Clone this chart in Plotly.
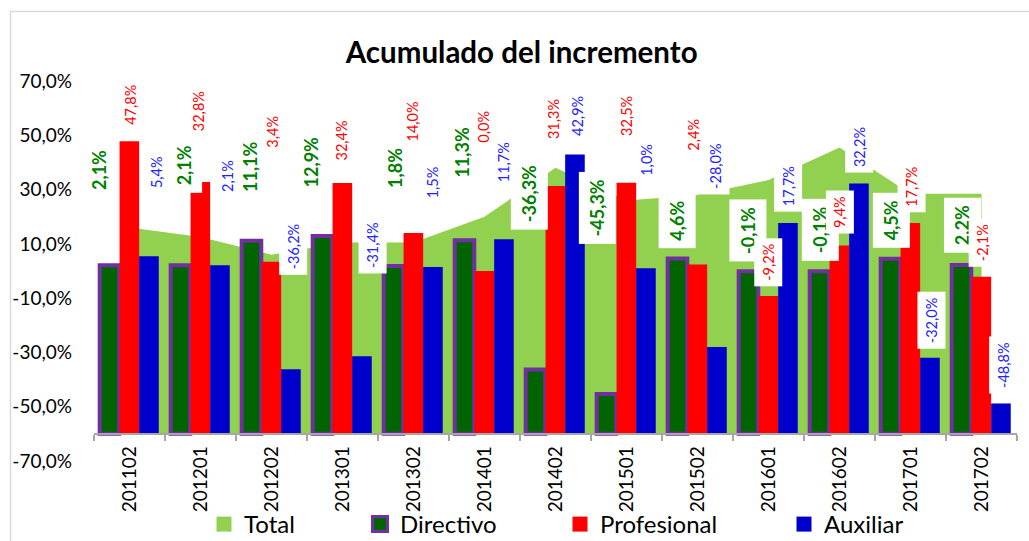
import plotly.graph_objects as go

# ---------------- data ----------------
categories = ["201102", "201201", "201202", "201301", "201302", "201401", "201402",
              "201501", "201502", "201601", "201602", "201701", "201702"]
total = [16.0, 12.5, 6.0, 10.5, 10.5, 20.0, 38.0, 26.0, 28.0, 33.5, 45.5, 28.5, 28.5]
directivo = [2.1, 2.1, 11.1, 12.9, 1.8, 11.3, -36.3, -45.3, 4.6, -0.1, -0.1, 4.5, 2.2]
profesional = [47.8, 32.8, 3.4, 32.4, 14.0, 0.0, 31.3, 32.5, 2.4, -9.2, 9.4, 17.7, -2.1]
auxiliar = [5.4, 2.1, -36.2, -31.4, 1.5, 11.7, 42.9, 1.0, -28.0, 17.7, 32.2, -32.0, -48.8]
y_tick_values = [-70, -50, -30, -10, 10, 30, 50, 70]

# ---------------- layout / style ----------------
BASE = -60          # horizontal axis crosses the value axis here
FONT = "Lato"
C_TOTAL = "#92D050"
C_DIR = "#006400"
C_DIR_LINE = "#7030A0"
C_PROF = "#FF0000"
C_AUX = "#0000CC"
L_DIR = "#008000"
L_PROF = "#FF0000"
L_AUX = "#2222FF"

BAR_W = 0.276
OFF_DIR, OFF_PROF, OFF_AUX = -0.42, -0.14, 0.136

PLOT_L, PLOT_W, PLOT_B, PLOT_H = 94, 923, 461, 380   # pixel frame of the plot area

# data-label placement (offset within category, vertical centre in axis units)
dir_lbl_dx = [-0.44, -0.24, -0.30, -0.45, -0.26, -0.32, -0.37, -0.41, -0.29, -0.29, -0.27, -0.27, -0.27]
dir_lbl_y = [37.3, 39.1, 38.4, 40.2, 38.0, 43.9, 28.4, 23.2, 18.5, 15.1, 15.1, 18.8, 17.0]
prof_lbl_dx = [0.01, -0.03, 0.02, -0.01, -0.01, -0.01, -0.03, 0.01, -0.05, -0.01, 0.01, 0.02, 0.01]
prof_lbl_y = [61.3, 59.0, 51.3, 48.0, 55.0, 53.1, 56.1, 57.2, 50.2, 3.3, 21.8, 31.0, 10.3]
aux_lbl_dx = [0.39, 0.39, 0.31, 0.43, 0.28, 0.28, 0.32, 0.29, 0.26, 0.28, 0.28, 0.29, 0.30]
aux_lbl_y = [36.5, 35.1, 8.9, 9.6, 32.8, 40.2, 57.2, 41.0, 38.7, 31.4, 45.8, -18.1, -34.7]

# legend entries: (name, fill, outline, legend id, text start in px)
legend_items = [("Total", C_TOTAL, None, "legend", 244),
                ("Directivo", C_DIR, C_DIR_LINE, "legend2", 400),
                ("Profesional", C_PROF, None, "legend3", 600),
                ("Auxiliar", C_AUX, None, "legend4", 824)]


def pct(v):
    return f"{v:.1f}".replace(".", ",") + "%"


fig = go.Figure()

# Total area (filled from the horizontal axis crossing) on the primary axes
fig.add_trace(go.Scatter(x=categories, y=[BASE] * len(categories), mode="lines",
                         line=dict(width=0, color=C_TOTAL), showlegend=False,
                         hoverinfo="skip"))
fig.add_trace(go.Scatter(x=categories, y=total, mode="lines", fill="tonexty",
                         fillcolor=C_TOTAL, line=dict(width=0, color=C_TOTAL),
                         name="Total", showlegend=False))

# Bars on overlaid axes so they sit above the area
fig.add_trace(go.Bar(x=categories, y=[v - BASE for v in directivo], base=BASE,
                     xaxis="x2", yaxis="y2",
                     width=BAR_W, offset=OFF_DIR, name="Directivo", showlegend=False,
                     marker=dict(color=C_DIR, line=dict(color=C_DIR_LINE, width=4))))
fig.add_trace(go.Bar(x=categories, y=[v - BASE for v in profesional], base=BASE,
                     xaxis="x2", yaxis="y2",
                     width=BAR_W, offset=OFF_PROF, name="Profesional", showlegend=False,
                     marker=dict(color=C_PROF, line=dict(width=0))))
fig.add_trace(go.Bar(x=categories, y=[v - BASE for v in auxiliar], base=BASE,
                     xaxis="x2", yaxis="y2",
                     width=BAR_W, offset=OFF_AUX, name="Auxiliar", showlegend=False,
                     marker=dict(color=C_AUX, line=dict(width=0))))

# legend entries (one small legend each, to reproduce the spacing)
legends = {}
for nm, col, ln, lid, tx in legend_items:
    fig.add_trace(go.Scatter(x=[None], y=[None], mode="markers", name=nm, legend=lid,
                             marker=dict(symbol="square", size=15, color=col,
                                         line=dict(color=ln or col, width=3 if ln else 0))))
    legends[lid] = dict(orientation="h", x=(tx - 40 - PLOT_L) / PLOT_W, xanchor="left",
                        y=(PLOT_B - 502) / PLOT_H, yanchor="top",
                        font=dict(family=FONT, size=24, color="black"),
                        bgcolor="rgba(0,0,0,0)")

annotations = []
for i in range(len(categories)):
    annotations.append(dict(x=i + dir_lbl_dx[i], y=dir_lbl_y[i], xref="x", yref="y",
                            text=pct(directivo[i]), textangle=-90, showarrow=False,
                            font=dict(family=FONT, size=18, color=L_DIR, weight="bold"),
                            bgcolor="white", borderpad=7))
for i in range(len(categories)):
    annotations.append(dict(x=i + prof_lbl_dx[i], y=prof_lbl_y[i], xref="x", yref="y",
                            text=pct(profesional[i]), textangle=-90, showarrow=False,
                            font=dict(family=FONT, size=14.5, color=L_PROF),
                            bgcolor="white", borderpad=5))
for i in range(len(categories)):
    annotations.append(dict(x=i + aux_lbl_dx[i], y=aux_lbl_y[i], xref="x", yref="y",
                            text=pct(auxiliar[i]), textangle=-90, showarrow=False,
                            font=dict(family=FONT, size=14.5, color=L_AUX),
                            bgcolor="white", borderpad=5))

xr = [-0.5, len(categories) - 0.5]
fig.update_layout(
    width=1029, height=541,
    margin=dict(l=PLOT_L, r=1029 - PLOT_L - PLOT_W, t=PLOT_B - PLOT_H,
                b=541 - PLOT_B, autoexpand=False),
    paper_bgcolor="white", plot_bgcolor="rgba(0,0,0,0)",
    barmode="overlay",
    separators=",.",
    font=dict(family=FONT, color="black"),
    title=dict(text="Acumulado del incremento", x=0.507, xanchor="center",
               y=0.903, yanchor="middle",
               font=dict(family=FONT, size=29.5, color="black", weight="bold")),
    xaxis=dict(type="category", range=xr,
               anchor="free", position=(BASE + 70) / 140,
               showline=True, linecolor="#A6A6A6", linewidth=1.5,
               ticks="outside", tickson="boundaries", ticklen=6, tickcolor="#A6A6A6",
               tickwidth=1.5, tickangle=-90, showgrid=False, ticklabelstandoff=4,
               tickfont=dict(family=FONT, size=19, color="black")),
    xaxis2=dict(type="category", range=xr, overlaying="x", visible=False),
    yaxis=dict(range=[-70, 70], tickvals=y_tick_values,
               ticktext=[pct(v) for v in y_tick_values],
               showgrid=False, zeroline=False, showline=False, ticks="",
               ticklabelstandoff=21,
               tickfont=dict(family=FONT, size=19, color="black")),
    yaxis2=dict(range=[-70, 70], overlaying="y", visible=False),
    annotations=annotations,
    shapes=[dict(type="rect", xref="paper", yref="paper",
                 x0=(10.5 - PLOT_L) / PLOT_W, x1=(1045 - PLOT_L) / PLOT_W,
                 y0=(PLOT_B - 560) / PLOT_H, y1=(PLOT_B - 11.5) / PLOT_H,
                 line=dict(color="#D9D9D9", width=1.5), fillcolor="rgba(0,0,0,0)",
                 layer="below")],
    **legends,
)

fig.write_html("out.html", config={"displayModeBar": False},
               post_script="document.body.style.margin='0px';document.body.style.padding='0px';")
